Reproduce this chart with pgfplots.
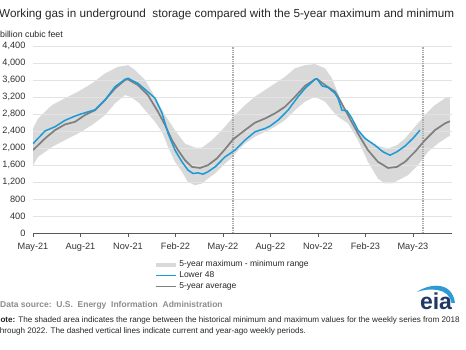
\documentclass[border=0pt]{standalone}
\usepackage{pgfplots}
\pgfplotsset{compat=1.18}
\usepackage{fontspec}
\setmainfont{Liberation Sans}
\definecolor{bandc}{HTML}{D9D9D9}
\definecolor{l48}{HTML}{1A9AD6}
\definecolor{avgc}{HTML}{7F7F7F}
\definecolor{gridc}{HTML}{E3E3E3}
\definecolor{axc}{HTML}{595959}
\definecolor{eianavy}{HTML}{1F3864}
\definecolor{eiablue}{HTML}{2E9AD8}
\definecolor{dashc}{HTML}{ABABAB}
\begin{document}
\begin{tikzpicture}[x=1pt,y=1pt]
\begin{axis}[
  set layers,
  at={(33pt,117pt)}, anchor=south west,
  scale only axis, width=419pt, height=187pt,
  xmin=0, xmax=26.47, ymin=0, ymax=4400,
  axis x line*=bottom, axis y line*=left,
  y axis line style={draw=none},
  x axis line style={axc, line width=0.8pt},
  xtick={0,3,...,24},
  xticklabels={May-21,Aug-21,Nov-21,Feb-22,May-22,Aug-22,Nov-22,Feb-23,May-23},
  ytick={0,400,...,4400},
  /pgf/number format/.cd, fixed, 1000 sep={,}, assume math mode=true, /pgfplots/.cd,
  ymajorgrids, grid style={gridc, line width=0.7pt},
  tick label style={font=\fontsize{9.2}{10}\selectfont, text=black!80},
  xticklabel style={yshift=-2.5pt},
  xtick style={axc, line width=0.7pt}, ytick style={draw=none},
  tick align=outside, major tick length=4pt,
  legend style={at={(0.289,-0.142)}, anchor=north west, draw=none, fill=none,
    font=\fontsize{8.5}{10}\selectfont, row sep=1.4pt, inner sep=0pt,
    nodes={inner sep=1pt, text=black!85}},
  legend cell align=left,
  legend image code/.code={\draw[#1] (0pt,0pt) -- (20pt,0pt);},
]
\addplot[fill=bandc, draw=none, on layer=axis background, forget plot] coordinates {
(0,2460) (0.32,2695) (1.20,3010) (2.02,3170) (2.84,3325) (3.73,3520) (4.55,3755)
(5.37,3910) (6.00,3950) (6.44,3835) (7.08,3600) (7.71,3205) (8.34,2775) (8.97,2420)
(9.60,2105) (10.23,2010) (10.68,2010) (11.31,2185) (11.94,2420) (12.57,2695) (12.76,2775)
(13.39,3010) (14.02,3205) (14.66,3365) (15.29,3520) (15.92,3675) (16.55,3875) (17.18,3950)
(17.81,3975) (18.45,3875) (18.89,3640) (19.27,3285) (19.90,2735) (20.53,2420) (21.16,2185)
(21.79,2045) (22.43,1990) (22.99,2065) (23.50,2225) (24.13,2500) (24.76,2775) (25.39,3010)
(26.03,3170) (26.34,3190)
(26.34,2280) (26.22,2265) (25.58,2105) (24.95,1910) (24.32,1595) (23.69,1360) (23.06,1240)
(22.68,1165) (22.24,1165) (21.79,1280) (21.16,1675) (20.53,2185) (19.90,2580) (19.27,2735)
(18.89,2890) (18.45,3090) (17.81,3205) (17.18,3090) (16.55,2890) (15.92,2655) (15.29,2500)
(14.66,2380) (14.02,2265) (13.39,2105) (12.76,1870) (12.63,1790) (12.13,1635) (11.50,1400)
(11.05,1280) (10.68,1165) (10.23,1125) (9.79,1200) (9.41,1440) (8.97,1675) (8.53,2025)
(8.15,2380) (7.71,2615) (7.08,2890) (6.7,3060) (6.2,3200) (5.81,3245) (5.18,3050)
(4.55,2775) (3.73,2540) (2.84,2340) (2.02,2185) (1.20,2025) (0.32,1790) (0,1595)
} -- cycle;
\addplot[dashc, line width=1.2pt, dash pattern=on 1pt off 0.8pt, forget plot] coordinates {(12.63,0) (12.63,4400)};
\addplot[dashc, line width=1.2pt, dash pattern=on 1pt off 0.8pt, forget plot] coordinates {(24.64,0) (24.64,4400)};
\addplot[avgc, line width=1.7pt, forget plot] coordinates {
(0,1950) (0.76,2225) (1.39,2420) (2.02,2555) (2.65,2615) (3.28,2775) (3.92,2890)
(4.55,3130) (5.18,3400) (5.81,3600) (6.00,3615) (6.63,3480) (7.26,3245) (7.90,2850)
(8.34,2540) (8.78,2185) (9.16,1950) (9.60,1715) (10.04,1555) (10.55,1530) (11.05,1595)
(11.62,1755) (12.13,1970) (12.63,2200) (13.39,2420) (14.02,2595) (14.66,2695) (15.29,2815)
(15.92,2970) (16.55,3205) (17.18,3460) (17.81,3615) (17.94,3625) (18.45,3480) (19.08,3325)
(19.27,3205) (19.90,2775) (20.53,2340) (21.16,1950) (21.79,1675) (22.43,1530) (22.99,1555)
(23.50,1675) (24.13,1910) (24.76,2185) (25.39,2420) (26.03,2580) (26.34,2630)
};
\addplot[l48, line width=1.5pt, forget plot] coordinates {
(0,2100) (0.76,2400) (1.39,2500) (2.02,2650) (2.65,2750) (3.03,2800) (3.92,2900)
(4.55,3130) (5.18,3440) (5.81,3615) (6.00,3640) (6.63,3520) (7.26,3320) (7.71,3170)
(8.15,2820) (8.53,2350) (8.97,1950) (9.41,1675) (9.79,1480) (10.11,1400) (10.42,1415)
(10.74,1385) (11.05,1440) (11.50,1555) (12.13,1790) (12.76,1950) (13.39,2185) (14.02,2380)
(14.66,2460) (14.97,2515) (15.48,2655) (16.11,2890) (16.74,3205) (17.18,3400) (17.81,3615)
(17.94,3630) (18.26,3460) (18.64,3425) (19.08,3285) (19.27,3170) (19.52,2890) (19.84,2875)
(20.15,2695) (20.53,2420) (20.98,2225) (21.60,2065) (22.11,1910) (22.55,1830) (22.99,1910)
(23.50,2045) (24.00,2225) (24.45,2420)
};
\addlegendimage{bandc, line width=4pt}
\addlegendentry{5-year maximum - minimum range}
\addlegendimage{l48, line width=1.6pt}
\addlegendentry{Lower 48}
\addlegendimage{avgc, line width=1.6pt}
\addlegendentry{5-year average}
\end{axis}
\node[anchor=west, font=\fontsize{11.7}{13}\selectfont, text=black!85, inner sep=0pt] at (-1,335.5) {Working gas in underground\ \ storage compared with the 5-year maximum and minimum};
\node[anchor=west, font=\fontsize{8.8}{10}\selectfont, text=black!85, inner sep=0pt] at (0,315.5) {billion cubic feet};
\node[anchor=base west, font=\bfseries\fontsize{8.5}{10}\selectfont, text=black!45, inner sep=0pt] at (0,42) {Data source:\ \ U.S.\ \ Energy\ \ Information\ \ Administration};
\node[anchor=base west, font=\fontsize{8.1}{10}\selectfont, text=black!85, inner sep=0pt] at (-5.5,27) {\textbf{Note:} The shaded area indicates the range between the historical minimum and maximum values for the weekly series from 2018};
\node[anchor=base west, font=\fontsize{8.1}{10}\selectfont, text=black!85, inner sep=0pt] at (-2.5,16) {through 2022. The dashed vertical lines indicate current and year-ago weekly periods.};
\fill[eiablue] (417,58) .. controls (428,66) and (452,70) .. (455,47) -- (451.5,47) .. controls (449,63) and (428,62) .. (417,58) -- cycle;
\node[anchor=base, font=\bfseries\fontsize{23}{24}\selectfont, text=eianavy, inner sep=0pt] at (436,40) {eia};
\pgfresetboundingbox
\path[use as bounding box] (0,0) rectangle (466,350);
\end{tikzpicture}
\end{document}
